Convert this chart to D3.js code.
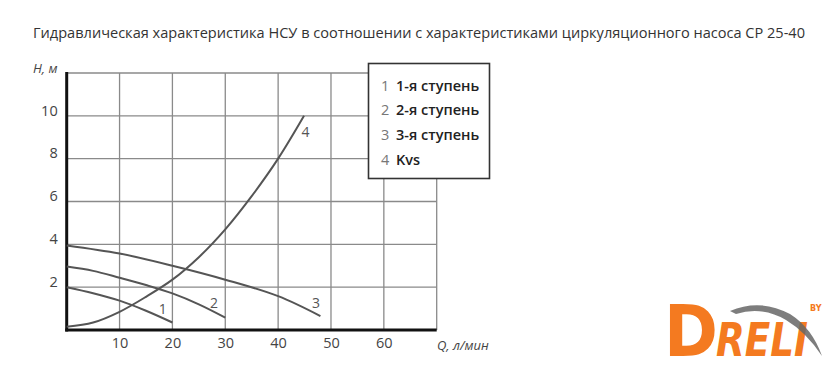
<!DOCTYPE html>
<html>
<head>
<meta charset="utf-8">
<script src="https://cdn.jsdelivr.net/npm/d3@7"></script>
<style>
  body { margin: 0; background: #fff; }
  svg { display: block; }
</style>
</head>
<body>
<div id="container"></div>
<script>
// data
let title = "Гидравлическая характеристика НСУ в соотношении с характеристиками циркуляционного насоса СР 25-40";
let xTicks = [10, 20, 30, 40, 50, 60];
let yTicks = [2, 4, 6, 8, 10];
let legendNames = ["1-я ступень", "2-я ступень", "3-я ступень", "Kvs"];
let curveIds = ["1", "2", "3", "4"];

// Q (л/мин), H (м)
let stage1Q = [0, 5, 10, 15, 20];
let stage1H = [2.0, 1.72, 1.37, 0.9, 0.35];
let stage2Q = [0, 5, 10, 15, 20, 25, 30];
let stage2H = [2.96, 2.76, 2.44, 2.1, 1.71, 1.2, 0.58];
let stage3Q = [0, 10, 20, 30, 40, 48];
let stage3H = [3.95, 3.57, 3.0, 2.35, 1.58, 0.65];
let kvsQ = [0, 5, 10, 15, 20, 25, 30, 35, 40, 44.9];
let kvsH = [0.15, 0.35, 0.85, 1.55, 2.35, 3.4, 4.7, 6.25, 8.0, 10.0];

let w = 840;
let h = 383;
let viz = d3.select("#container")
  .append("svg")
    .attr("width", w)
    .attr("height", h)
;

let xScale = d3.scaleLinear().domain([0, 70]).range([66.7, 436.7]);
let yScale = d3.scaleLinear().domain([0, 12]).range([330, 73]);

// title
viz.append("text")
    .attr("x", 33)
    .attr("y", 38)
    .attr("textLength", 772)
    .attr("lengthAdjust", "spacingAndGlyphs")
    .style("font-family", "'Open Sans', sans-serif")
    .style("font-size", "14.5px")
    .style("fill", "#333")
    .text(title)
;

// grid
let grid = viz.append("g").attr("class", "grid");
grid.selectAll(".vline")
  .data(xTicks.concat([70]))
  .enter().append("line")
    .attr("x1", d => xScale(d)).attr("x2", d => xScale(d))
    .attr("y1", yScale(12)).attr("y2", yScale(0))
    .attr("stroke", "#8a8a8a").attr("stroke-width", 1.3)
;
grid.selectAll(".hline")
  .data(yTicks.concat([12]))
  .enter().append("line")
    .attr("x1", xScale(0)).attr("x2", xScale(70))
    .attr("y1", d => yScale(d)).attr("y2", d => yScale(d))
    .attr("stroke", "#8a8a8a").attr("stroke-width", 1.3)
;

// axes (labels only, lines drawn thick below)
let xAxis = d3.axisBottom(xScale).tickValues(xTicks).tickSize(0).tickPadding(8);
let xAxisGroup = viz.append("g")
    .attr("class", "xaxisgroup")
    .attr("transform", "translate(0," + yScale(0) + ")")
;
xAxisGroup.call(xAxis);
let yAxis = d3.axisLeft(yScale).tickValues(yTicks).tickSize(0).tickPadding(9);
let yAxisGroup = viz.append("g")
    .attr("class", "yaxisgroup")
    .attr("transform", "translate(" + xScale(0) + ",0)")
;
yAxisGroup.call(yAxis);
viz.selectAll(".xaxisgroup .domain, .yaxisgroup .domain").remove();
viz.selectAll(".xaxisgroup text, .yaxisgroup text")
    .style("font-family", "'Open Sans', sans-serif")
    .style("font-size", "14.5px")
    .style("fill", "#444")
;
yAxisGroup.selectAll("text").attr("dy", "-0.05em");

viz.append("line")
    .attr("x1", xScale(0)).attr("x2", xScale(0))
    .attr("y1", yScale(12) - 1).attr("y2", yScale(0) + 1.5)
    .attr("stroke", "#111").attr("stroke-width", 3)
;
viz.append("line")
    .attr("x1", xScale(0) - 1.5).attr("x2", xScale(70))
    .attr("y1", yScale(0)).attr("y2", yScale(0))
    .attr("stroke", "#111").attr("stroke-width", 3)
;

// axis titles
viz.append("text")
    .attr("x", 33).attr("y", 73)
    .style("font-family", "'Open Sans', sans-serif")
    .style("font-style", "italic")
    .style("font-size", "13px")
    .style("fill", "#444")
    .text("H, м")
;
viz.append("text")
    .attr("x", 437).attr("y", 350)
    .style("font-family", "'Open Sans', sans-serif")
    .style("font-style", "italic")
    .style("font-size", "13px")
    .style("fill", "#444")
    .text("Q, л/мин")
;

// curves
let series = [
  { q: stage1Q, h: stage1H, lx: 162.7, ly: 308 },
  { q: stage2Q, h: stage2H, lx: 214, ly: 302 },
  { q: stage3Q, h: stage3H, lx: 316, ly: 302 },
  { q: kvsQ, h: kvsH, lx: 305.5, ly: 131 }
];

let lineMaker = d3.line()
    .x(d => xScale(d[0]))
    .y(d => yScale(d[1]))
    .curve(d3.curveCatmullRom)
;

series.forEach(function(s, i){
  let pts = s.q.map((q, j) => [q, s.h[j]]);
  viz.append("path")
      .datum(pts)
      .attr("d", lineMaker)
      .attr("fill", "none")
      .attr("stroke", "#555")
      .attr("stroke-width", 2)
  ;
  viz.append("text")
      .attr("x", s.lx).attr("y", s.ly)
      .attr("text-anchor", "middle")
      .attr("dominant-baseline", "central")
      .style("font-family", "'Open Sans', sans-serif")
      .style("font-size", "14px")
      .style("fill", "#555")
      .text(curveIds[i])
  ;
});

// legend
let legend = viz.append("g").attr("class", "legend");
legend.append("rect")
    .attr("x", 368.5).attr("y", 63.5)
    .attr("width", 121).attr("height", 115)
    .attr("fill", "#fff")
    .attr("stroke", "#333")
    .attr("stroke-width", 1.6)
;
let rows = legend.selectAll(".row")
  .data(legendNames)
  .enter().append("g")
    .attr("transform", (d, i) => "translate(381," + (85 + i * 24.7) + ")")
;
rows.append("text")
    .attr("dominant-baseline", "central")
    .style("font-family", "'Open Sans', sans-serif")
    .style("font-size", "14.5px")
    .style("fill", "#777")
    .text((d, i) => curveIds[i])
;
rows.append("text")
    .attr("x", 15)
    .attr("dominant-baseline", "central")
    .style("font-family", "'Open Sans', sans-serif")
    .style("font-size", "14.5px")
    .style("font-weight", "600")
    .style("fill", "#222")
    .text(d => d)
;

// logo
let logo = viz.append("g").attr("class", "logo");
logo.append("text")
    .attr("x", 664).attr("y", 356)
    .attr("textLength", 54)
    .attr("lengthAdjust", "spacingAndGlyphs")
    .style("font-family", "'DejaVu Sans', sans-serif")
    .style("font-weight", "bold")
    .style("font-size", "72px")
    .style("fill", "#f47a20")
    .text("D")
;
logo.append("text")
    .attr("x", 716).attr("y", 356)
    .attr("textLength", 92)
    .attr("lengthAdjust", "spacingAndGlyphs")
    .style("font-family", "'DejaVu Sans', sans-serif")
    .style("font-weight", "bold")
    .style("font-style", "italic")
    .style("font-size", "46px")
    .style("fill", "#f47a20")
    .text("RELI")
;
logo.append("path")
    .attr("d", "M730,311 Q760,298 790,314 Q812,328 822,356 Q806,332 786,320 Q762,306 736,314 Z")
    .attr("fill", "#666")
    .attr("fill-opacity", 0.85)
;
logo.append("text")
    .attr("x", 810).attr("y", 311)
    .style("font-family", "'DejaVu Sans', sans-serif")
    .style("font-weight", "bold")
    .style("font-size", "8px")
    .style("fill", "#f47a20")
    .text("BY")
;
</script>
</body>
</html>
